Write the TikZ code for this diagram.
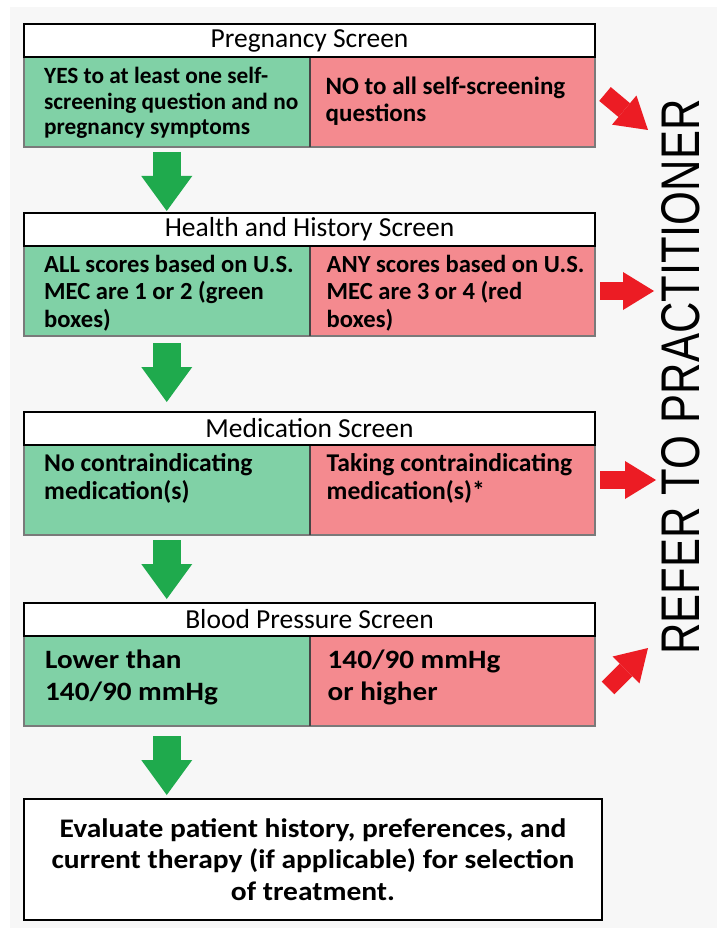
\documentclass[tikz,border=0pt]{standalone}
\usepackage{fontspec}
\setmainfont{Carlito}
\newfontfamily\widefont[FakeStretch=1.1]{Carlito}
\newfontfamily\referfont{Liberation Sans}
\usetikzlibrary{arrows.meta,positioning}
\definecolor{scrBack}{HTML}{F7F7F7}
\definecolor{scrGreen}{HTML}{80D1A6}
\definecolor{scrRed}{HTML}{F48A8F}
\definecolor{scrEdge}{HTML}{7A7A7A}
\definecolor{scrSplit}{HTML}{454545}
\definecolor{goGreen}{HTML}{1FAA4D}
\definecolor{stopRed}{HTML}{EC1C24}

\begin{document}
\begin{tikzpicture}[
  x=1pt, y=-1pt,
  header/.style={draw=black, line width=2.5pt, fill=white, anchor=south west,
                 minimum width=571pt, minimum height=33pt, inner sep=0pt,
                 outer sep=0pt, font=\fontsize{27.5}{30}\selectfont},
  passcell/.style={draw=scrEdge, line width=1.8pt, fill=scrGreen, anchor=north west,
                   minimum width=285.5pt, minimum height=90pt, inner sep=0pt,
                   outer sep=0pt},
  failcell/.style={passcell, fill=scrRed},
  celltext/.style={anchor=north west, align=left, inner sep=0pt,
                   font=\bfseries\fontsize{24.6}{27.5}\selectfont},
  bigtext/.style={celltext, font=\widefont\bfseries\fontsize{26.5}{32}\selectfont},
  endbox/.style={draw=black, line width=2.5pt, fill=white, align=center,
                 minimum width=578pt, minimum height=121pt, inner sep=0pt,
                 outer sep=0pt, font=\widefont\bfseries\fontsize{26.8}{31.5}\selectfont},
  split/.style={draw=scrSplit, line width=2pt},
  goarrow/.style={draw=goGreen, line width=28pt,
                  -{Triangle[length=35pt, width=51pt, line width=0pt]}},
  stoparrow/.style={draw=stopRed, line width=18pt,
                    -{Triangle[length=31pt, width=38pt, line width=0pt]}}
]
\useasboundingbox (0,0) rectangle (717,928);
\fill[white] (0,0) rectangle (717,928);
\fill[scrBack] (10,7) rectangle (717,928);

% screening rows
\node[passcell] (pregYes) at (24,57) {};
\node[failcell, right=0pt of pregYes] (pregNo) {};
\node[passcell, below=99pt of pregYes] (healthYes) {};
\node[failcell, right=0pt of healthYes] (healthNo) {};
\node[passcell, below=109pt of healthYes] (medYes) {};
\node[failcell, right=0pt of medYes] (medNo) {};
\node[passcell, below=101pt of medYes] (bpYes) {};
\node[failcell, right=0pt of bpYes] (bpNo) {};

\draw[split] (pregYes.north east) -- (pregYes.south east);
\draw[split] (healthYes.north east) -- (healthYes.south east);
\draw[split] (medYes.north east) -- (medYes.south east);
\draw[split] (bpYes.north east) -- (bpYes.south east);

\node[header] (preg) at (pregYes.north west) {Pregnancy Screen};
\node[header] (health) at (healthYes.north west) {Health and History Screen};
\node[header] (med) at (medYes.north west) {Medication Screen};
\node[header] (bp) at (bpYes.north west) {Blood Pressure Screen};

\node[celltext, font=\bfseries\fontsize{23.3}{25.5}\selectfont] (pregYesTxt)
  at ([shift={(20pt,-10pt)}]pregYes.north west)
  {YES to at least one self-\\screening question and no\\pregnancy symptoms};
\node[celltext, font=\bfseries\fontsize{25}{27}\selectfont] (pregNoTxt)
  at ([shift={(16pt,-20pt)}]pregNo.north west)
  {NO to all self-screening\\questions};
\node[celltext] (healthYesTxt) at ([shift={(20pt,-9pt)}]healthYes.north west)
  {ALL scores based on U.S.\\MEC are 1 or 2 (green\\boxes)};
\node[celltext] (healthNoTxt) at ([shift={(17pt,-9pt)}]healthNo.north west)
  {ANY scores based on U.S.\\MEC are 3 or 4 (red\\boxes)};
\node[celltext, font=\bfseries\fontsize{25.6}{27.5}\selectfont] (medYesTxt)
  at ([shift={(20pt,-8.5pt)}]medYes.north west)
  {No contraindicating\\medication(s)};
\node[celltext, font=\bfseries\fontsize{25.6}{27.5}\selectfont] (medNoTxt)
  at ([shift={(17pt,-8.5pt)}]medNo.north west)
  {Taking contraindicating\\medication(s)*};
\node[bigtext] (bpYesTxt) at ([shift={(21pt,-14pt)}]bpYes.north west)
  {Lower than\\140/90 mmHg};
\node[bigtext] (bpNoTxt) at ([shift={(18pt,-14pt)}]bpNo.north west)
  {140/90 mmHg\\or higher};

\node[endbox, below=73pt of bpYes.south west, anchor=north west] (evaluate)
  {Evaluate patient history, preferences, and\\
   current therapy (if applicable) for selection\\of treatment.};

% pass arrows
\draw[goarrow, shorten <=5pt, shorten >=2pt] (pregYes.south) -- (pregYes.south |- health.north);
\draw[goarrow, shorten <=7pt, shorten >=10pt] (healthYes.south) -- (healthYes.south |- med.north);
\draw[goarrow, shorten <=5pt, shorten >=4pt] (medYes.south) -- (medYes.south |- bp.north);
\draw[goarrow, shorten <=10pt, shorten >=4pt] (bpYes.south) -- (bpYes.south |- evaluate.north);

% referral
\node[rotate=90, inner sep=0pt] (refer) at (681,377)
  {\resizebox{555pt}{38pt}{\referfont REFER TO PRACTITIONER}};
\coordinate (pregTip) at (648,130);
\coordinate (healthTip) at (654,291);
\coordinate (medTip) at (656,480);
\coordinate (bpTip) at (648,648);
\draw[stoparrow] ([shift={(10pt,8pt)}]pregNo.east) -- (pregTip);
\draw[stoparrow] ([xshift=5pt]healthNo.east) -- (healthTip);
\draw[stoparrow] ([shift={(5pt,10pt)}]medNo.east) -- (medTip);
\draw[stoparrow] ([shift={(13pt,-7pt)}]bpNo.east) -- (bpTip);
\end{tikzpicture}
\end{document}
